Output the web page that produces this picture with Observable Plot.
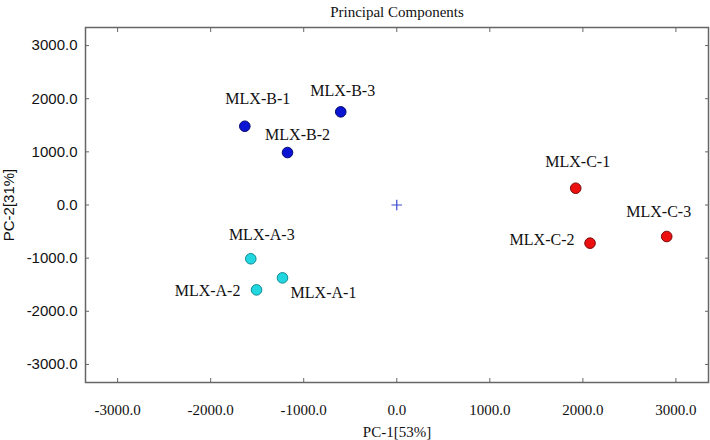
<!DOCTYPE html>
<html>
<head>
<meta charset="utf-8">
<script src="https://cdn.jsdelivr.net/npm/d3@7"></script>
<script src="https://cdn.jsdelivr.net/npm/@observablehq/plot@0.6"></script>
<style>
  html, body { margin: 0; padding: 0; background: #fff; }
</style>
</head>
<body>
<div id="chart"></div>
<script>
// ---- data ----
const title = "Principal Components";
const xLabel = "PC-1[53%]";
const yLabel = "PC-2[31%]";
const names = ["MLX-A-1", "MLX-A-2", "MLX-A-3", "MLX-B-1", "MLX-B-2", "MLX-B-3", "MLX-C-1", "MLX-C-2", "MLX-C-3"];
const groups = ["A", "A", "A", "B", "B", "B", "C", "C", "C"];
const pc1 = [-1228, -1507, -1569, -1633, -1174, -602, 1923, 2077, 2901];
const pc2 = [-1371, -1597, -1012, 1482, 987, 1753, 316, -718, -593];
const xTicks = [-3000, -2000, -1000, 0, 1000, 2000, 3000];
const yTicks = [-3000, -2000, -1000, 0, 1000, 2000, 3000];
const origin = [{x: 0, y: 0}];

// ---- styling / layout (not data) ----
const groupFill = {A: "#22d6df", B: "#0a14d2", C: "#ec1010"};
const groupStroke = {A: "#108c96", B: "#05086e", C: "#7a0808"};
const labelOffset = {
  "MLX-A-1": [41, 15], "MLX-A-2": [-49, 1], "MLX-A-3": [11, -24],
  "MLX-B-1": [13, -27], "MLX-B-2": [10, -18], "MLX-B-3": [2, -21],
  "MLX-C-1": [2, -26], "MLX-C-2": [-48, -3], "MLX-C-3": [-8, -25]
};

const points = names.map((n, i) => ({name: n, group: groups[i], x: pc1[i], y: pc2[i]}));
const fmt = d => d.toFixed(1);
const serif = "Liberation Serif";
const sans = "Liberation Sans";
const frameColor = "#666";

const marks = [
  Plot.frame({stroke: frameColor, strokeWidth: 1.5}),
  // inward tick marks on all four sides
  Plot.axisX(xTicks, {anchor: "bottom", tickSize: -4, tickFormat: () => "", label: null, stroke: frameColor}),
  Plot.axisX(xTicks, {anchor: "top", tickSize: -4, tickFormat: () => "", label: null, stroke: frameColor}),
  Plot.axisY(yTicks, {anchor: "left", tickSize: -4, tickFormat: () => "", label: null, stroke: frameColor}),
  Plot.axisY(yTicks, {anchor: "right", tickSize: -4, tickFormat: () => "", label: null, stroke: frameColor}),
  // tick labels + axis titles
  Plot.axisX(xTicks, {anchor: "bottom", tickSize: 0, tickPadding: 22, tickFormat: fmt, fontFamily: serif, fontSize: 15,
    fill: "#111", label: xLabel, labelAnchor: "center", labelArrow: "none", labelOffset: 54}),
  Plot.axisY(yTicks, {anchor: "left", tickSize: 0, tickPadding: 8, tickFormat: fmt, fontFamily: sans, fontSize: 15,
    fill: "#111", label: yLabel, labelAnchor: "center", labelArrow: "none", labelOffset: 82}),
  // title
  Plot.text([title], {frameAnchor: "top", dy: -15, fontFamily: serif, fontSize: 15, fill: "#111", lineAnchor: "middle"}),
  // origin marker
  Plot.dot(origin, {x: "x", y: "y", symbol: "plus", r: 3.5, stroke: "#3a48d0", strokeWidth: 1.2, fill: "none"})
];

for (const g of ["A", "B", "C"]) {
  marks.push(Plot.dot(points.filter(d => d.group === g), {
    x: "x", y: "y", r: 5.3, fill: groupFill[g], stroke: groupStroke[g], strokeWidth: 1
  }));
}
for (const p of points) {
  const [dx, dy] = labelOffset[p.name];
  marks.push(Plot.text([p], {
    x: "x", y: "y", text: "name", dx, dy, fontFamily: serif, fontSize: 16, fill: "#111",
    textAnchor: "middle", lineAnchor: "middle"
  }));
}

const chart = Plot.plot({
  width: 710,
  height: 440,
  marginTop: 27,
  marginRight: 2,
  marginBottom: 58,
  marginLeft: 85,
  x: {domain: [-3345, 3350]},
  y: {domain: [-3340, 3340]},
  style: {background: "#fff", fontFamily: serif, overflow: "visible"},
  marks
});
document.getElementById("chart").appendChild(chart);
</script>
</body>
</html>
